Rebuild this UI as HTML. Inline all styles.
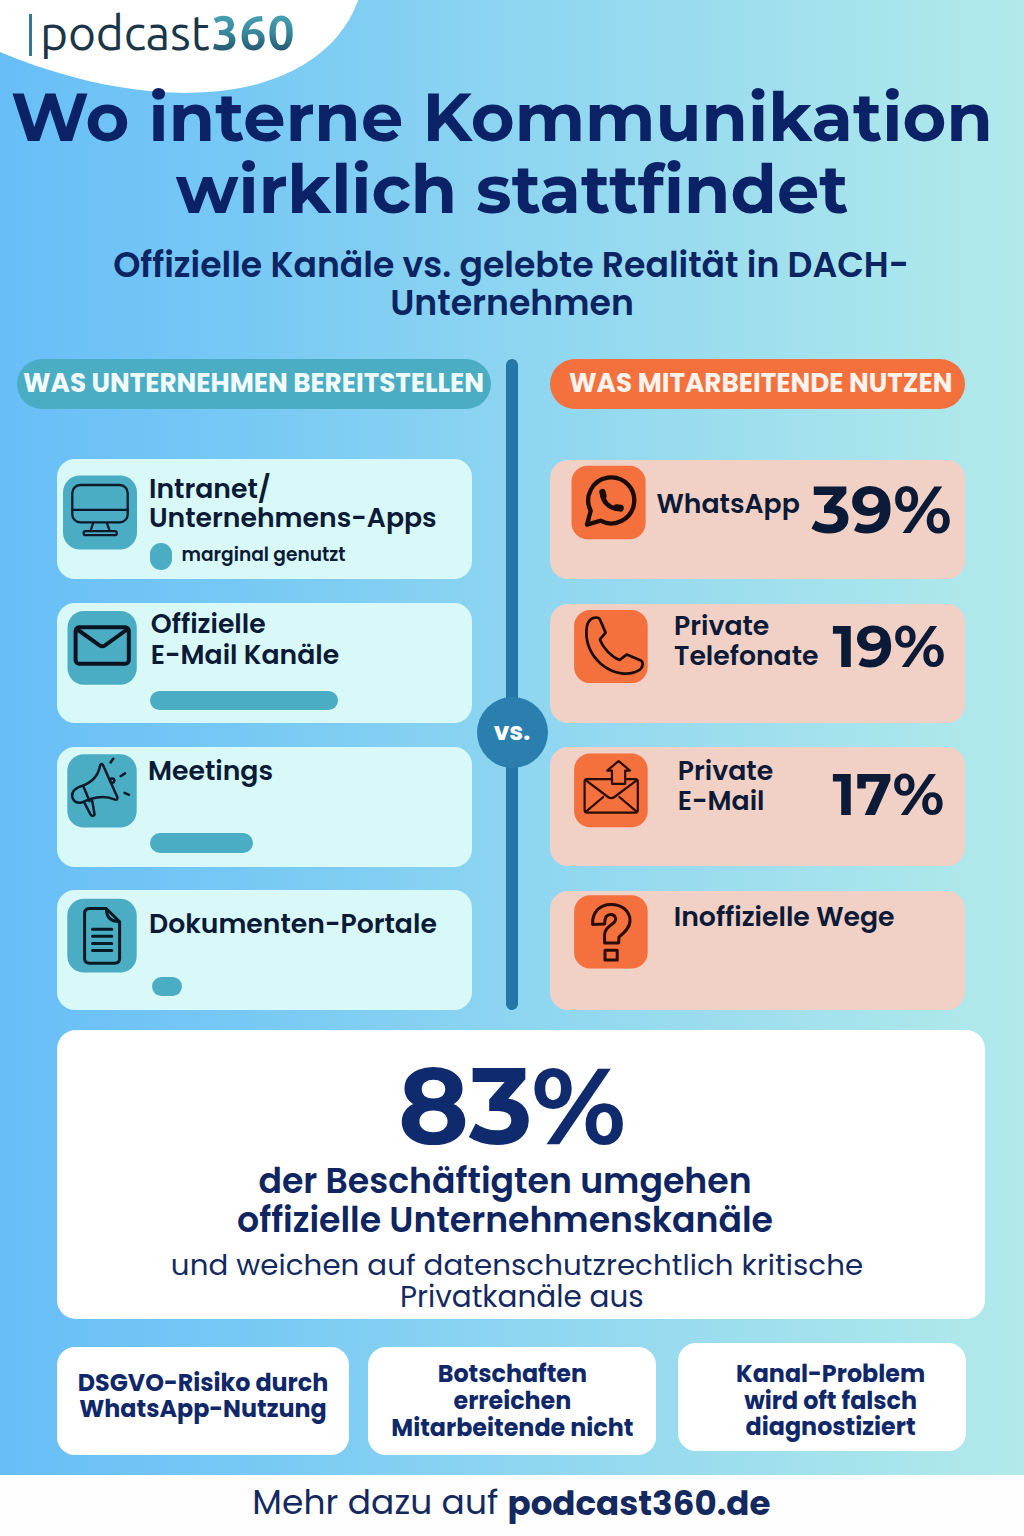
<!DOCTYPE html>
<html lang="de">
<head>
<meta charset="utf-8">
<title>Wo interne Kommunikation wirklich stattfindet</title>
<style>
*{margin:0;padding:0;box-sizing:border-box}
html,body{width:1024px;height:1536px;overflow:hidden}
body{position:relative;background:linear-gradient(90deg,#67bef7 0%,#78c9f4 25%,#8dd5f1 50%,#b2eaea 100%);font-family:"Poppins","Liberation Sans",sans-serif;color:#0b1a36}
.abs{position:absolute}
.t{position:absolute;white-space:nowrap;line-height:1}
.mont{font-family:"Montserrat","Liberation Sans",sans-serif;font-weight:700}
.card{position:absolute;border-radius:18px}
.lc{background:#d8f9f8;left:57px;width:415px;height:120px}
.rc{background:#f1d0c6;left:550px;width:415px;height:119px}
.ic{position:absolute;border-radius:17px}
.tl{background:#4badc3}
.or{background:#f4703c}
.bar{position:absolute;background:#4badc3;border-radius:10px}
.ct{font-weight:600;font-size:26.7px;color:#0b1a36}
.wc{position:absolute;background:#fff;border-radius:18px}
.sc{font-weight:700;font-size:23.8px;color:#10286a;text-align:center}
</style>
</head>
<body>
<!-- logo blob -->
<svg class="abs" style="left:0;top:0" width="420" height="110" viewBox="0 0 420 110">
  <ellipse cx="28.4" cy="-168.5" rx="372.3" ry="210.3" transform="rotate(30.4 28.4 -169.5)" fill="#ffffff"/>
</svg>
<div class="abs" style="left:29.3px;top:13.5px;width:3px;height:42px;background:#2f7890"></div>
<div class="t" style="left:40px;top:8px;font-family:'Ubuntu','Liberation Sans',sans-serif;font-weight:370;font-size:48px;color:#1b3549;letter-spacing:-0.2px">podcast<span style="font-weight:640;letter-spacing:1px;margin-left:2px;background:linear-gradient(180deg,#50b1c1 0%,#3a889d 50%,#1a4560 100%);-webkit-background-clip:text;background-clip:text;color:transparent">360</span></div>

<!-- title -->
<div class="t mont" style="left:0;width:1004px;text-align:center;top:83.8px;font-size:67px;letter-spacing:0.1px;color:#0c2266">Wo interne Kommunikation</div>
<div class="t mont" style="left:0;width:1024px;text-align:center;top:156.2px;font-size:67px;color:#0c2266">wirklich stattfindet</div>

<!-- subtitle -->
<div class="t" style="left:0;width:1022px;text-align:center;top:247.5px;font-weight:600;font-size:34.65px;color:#0c2462">Offizielle Kanäle vs. gelebte Realität in DACH-</div>
<div class="t" style="left:0;width:1024px;text-align:center;top:286px;font-weight:600;font-size:34.65px;color:#0c2462">Unternehmen</div>

<!-- headers -->
<div class="abs" style="left:17px;top:359px;width:474px;height:50px;border-radius:25px;background:#4badc3"></div>
<div class="t" style="left:23px;top:370.2px;font-weight:700;font-size:26.22px;color:#f2fbfb">WAS UNTERNEHMEN BEREITSTELLEN</div>
<div class="abs" style="left:550px;top:359px;width:415px;height:50px;border-radius:25px;background:#f4703c"></div>
<div class="t" style="left:569px;top:370.2px;font-weight:700;font-size:26.25px;color:#fbf4ee">WAS MITARBEITENDE NUTZEN</div>

<!-- center line + vs -->
<div class="abs" style="left:505.5px;top:359px;width:12.5px;height:651px;border-radius:7px;background:#2478a7"></div>
<div class="abs" style="left:476.5px;top:696.5px;width:71px;height:71px;border-radius:50%;background:#2a7fae"></div>
<div class="t" style="left:476.5px;width:71px;text-align:center;top:719px;font-weight:700;font-size:25px;color:#fff">vs.</div>

<!-- left cards -->
<div class="card lc" style="top:459px"></div>
<div class="card lc" style="top:603px"></div>
<div class="card lc" style="top:747px"></div>
<div class="card lc" style="top:890px"></div>

<!-- right cards -->
<div class="card rc" style="top:459.5px"></div>
<div class="card rc" style="top:604px"></div>
<div class="card rc" style="top:747px"></div>
<div class="card rc" style="top:891px"></div>


<!-- icons overlay -->
<svg class="abs" style="left:0;top:0" width="1024" height="1536" viewBox="0 0 1024 1536" fill="none" stroke-linecap="round" stroke-linejoin="round">
  <!-- left icon squares -->
  <rect x="63" y="475.5" width="74" height="74" rx="17" fill="#4badc3"/>
  <rect x="67.5" y="611" width="69.3" height="73.8" rx="16.5" fill="#4badc3"/>
  <rect x="67.3" y="754.2" width="69.4" height="73.4" rx="16.5" fill="#4badc3"/>
  <rect x="67.3" y="898.8" width="69.4" height="73.8" rx="16.5" fill="#4badc3"/>
  <!-- monitor -->
  <g stroke="#0d1a2c" stroke-width="2.3">
    <rect x="72.3" y="485" width="55.4" height="37.4" rx="8"/>
    <line x1="72.3" y1="509.8" x2="127.7" y2="509.8"/>
    <path d="M93 523.4 L90.6 530.6 M107 523.4 L109.6 530.6"/>
    <rect x="83.6" y="531.2" width="33.2" height="4" rx="2"/>
  </g>
  <!-- envelope -->
  <g stroke="#0a1420" stroke-width="4">
    <rect x="75.6" y="627.3" width="53.2" height="36.4" rx="3.5"/>
    <path d="M78.8 630.5 L99.5 645.3 Q102.2 647.2 105 645.3 L125.6 630.5"/>
  </g>
  <!-- megaphone -->
  <g stroke="#0d1a2c" stroke-width="2.5">
    <path d="M100.2 765.2 Q101.5 762.8 103.2 765.5 L117.4 797.2 Q117.6 800.6 114.4 799.4 Q104 794.6 90.5 799 L82.5 802.2 Q74 804.5 72.2 796.5 Q71.2 789.2 82.8 785.6 Q97.6 780 100.2 765.2 Z"/>
    <path d="M83 785.6 L89.6 801.2"/>
    <path d="M84.6 803.2 L90.6 814.6 Q92.6 817.4 94.6 814.6 L92.2 800.8"/>
    <circle cx="112.2" cy="780.6" r="2.2"/>
    <path d="M110.6 762.4 L113.2 758.8 M120.6 776.2 L125 773.4 M124.6 792.8 L129 794.8"/>
  </g>
  <!-- document -->
  <g stroke="#071a24" stroke-width="3">
    <path d="M106.2 908.5 L89.6 908.5 Q84.6 908.5 84.6 913.5 L84.6 958.2 Q84.6 963.2 89.6 963.2 L114.6 963.2 Q119.6 963.2 119.6 958.2 L119.6 921.8 Z"/>
    <path d="M106.5 909 Q106.5 921.5 119 921.5"/>
    <path d="M92.5 929.2 L111.8 929.2 M92.5 936.3 L111.8 936.3 M92.5 943.4 L111.8 943.4 M92.5 950.6 L111.8 950.6"/>
  </g>
  <!-- right icon squares -->
  <rect x="571.5" y="465.7" width="74.1" height="73.6" rx="16" fill="#f4703c"/>
  <rect x="574.1" y="610" width="73.6" height="73.1" rx="16" fill="#f4703c"/>
  <rect x="574.1" y="753.6" width="73.6" height="73.6" rx="16" fill="#f4703c"/>
  <rect x="574.1" y="895.3" width="73.6" height="73.1" rx="16" fill="#f4703c"/>
  <!-- whatsapp -->
  <g stroke="#1a0a08" stroke-width="4.3">
    <path d="M590.7 510.8 A23 23 0 1 1 600.4 520.7 L587 524.6 Z"/>
  </g>
  <g stroke="#1a0a08" fill="none">
    <path d="M602.5 492 L603.4 496" stroke-width="6.4"/>
    <path d="M602.6 495 C603 501 608 507 615.5 508.6" stroke-width="4.6"/>
    <path d="M616.6 507.6 L620.4 508.2" stroke-width="6.8"/>
  </g>
  <!-- phone -->
  <path d="M591 619.2 C594 617.2 598 616.8 599.6 618.8 L605.6 632.6 L599.8 639.6 C603 648 611 656.6 619.6 660 L626.6 654.6 L641 660.6 C643.6 662.2 643 667 640 669.6 C630 676 614 675 601 664 C590 654 586 642 586.4 631 C586.6 625 588.4 621 591 619.2 Z" stroke="#1a0a08" stroke-width="2.7"/>
  <!-- private email -->
  <g stroke="#2a0c06" stroke-width="2.2">
    <rect x="584.6" y="779.2" width="53.2" height="33.4" rx="2.5"/>
    <path d="M586 780.4 L608 797 Q611.2 799.4 614.4 797 L636.6 780.4"/>
    <path d="M586 811.6 L603.2 797 M636.6 811.6 L619.4 797"/>
    <path d="M618.6 761 L630 770.6 L625.2 770.6 L625.2 783.8 L612 783.8 L612 770.6 L607.2 770.6 Z" fill="#f4703c"/>
  </g>
  <!-- question -->
  <g stroke="#2a0c06" stroke-width="3">
    <path d="M592.6 924.4 C592 912 600 904.6 611 904.6 C622 904.6 630 911 630 920.6 C630 928 624 933 619 937 L618.6 943 L604.6 943 L604.6 935 C604.6 930 608 927 611 925 C614 923 616 921 615.6 918.6 C615 915.6 612.6 914.6 610.6 914.6 C607 914.6 604.6 917 604.6 924 Z"/>
    <rect x="605" y="950.3" width="12.2" height="9.6"/>
  </g>
</svg>

<!-- left card texts -->
<div class="t ct" style="left:149px;top:475.8px">Intranet/</div>
<div class="t ct" style="left:149px;top:505.4px">Unternehmens-Apps</div>
<div class="abs" style="left:149.6px;top:542.7px;width:22px;height:27px;border-radius:11px;background:#4badc3"></div>
<div class="t" style="left:181.5px;top:546.2px;font-weight:600;font-size:18.6px;color:#0b1a36">marginal genutzt</div>
<div class="t ct" style="left:150.8px;top:611.3px">Offizielle</div>
<div class="t ct" style="left:150.8px;top:642px">E-Mail Kanäle</div>
<div class="bar" style="left:150px;top:690.6px;width:188px;height:19.8px"></div>
<div class="t ct" style="left:148px;top:757.7px">Meetings</div>
<div class="bar" style="left:150px;top:832.8px;width:102.5px;height:20px"></div>
<div class="t ct" style="left:149px;top:911.3px">Dokumenten-Portale</div>
<div class="bar" style="left:152px;top:977px;width:29.5px;height:19.4px"></div>

<!-- right card texts -->
<div class="t ct" style="left:656.5px;top:491.2px">WhatsApp</div>
<div class="t mont" style="left:811.5px;top:477.3px;font-size:66.5px;color:#0b1a36">39%</div>
<div class="t ct" style="left:674px;top:613.3px">Private</div>
<div class="t ct" style="left:674px;top:643px">Telefonate</div>
<div class="t mont" style="left:832.6px;top:616.8px;font-size:59.2px;color:#0b1a36">19%</div>
<div class="t ct" style="left:677.8px;top:757.8px">Private</div>
<div class="t ct" style="left:677.8px;top:788px">E-Mail</div>
<div class="t mont" style="left:832.5px;top:764.5px;font-size:59px;color:#0b1a36">17%</div>
<div class="t ct" style="left:673.8px;top:904.4px">Inoffizielle Wege</div>

<!-- big card -->
<div class="wc" style="left:57px;top:1029.5px;width:928px;height:289px;border-radius:19px"></div>
<div class="t mont" style="left:0;width:1024px;text-align:center;top:1051.5px;font-size:107.5px;color:#0f2a6d">83%</div>


<div class="t" style="left:0;width:1010px;text-align:center;top:1164px;font-weight:600;font-size:34.7px;color:#0f2561">der Beschäftigten umgehen</div>
<div class="t" style="left:0;width:1010px;text-align:center;top:1203px;font-weight:600;font-size:34.65px;color:#0f2561">offizielle Unternehmenskanäle</div>
<div class="t" style="left:0;width:1034px;text-align:center;top:1250.3px;font-weight:400;font-size:29.25px;letter-spacing:0.08px;color:#13295f">und weichen auf datenschutzrechtlich kritische</div>
<div class="t" style="left:0;width:1043.6px;text-align:center;top:1281.6px;font-weight:400;font-size:29.45px;color:#13295f">Privatkanäle aus</div>

<!-- small cards -->
<div class="wc" style="left:57px;top:1347px;width:292px;height:108px"></div>
<div class="wc" style="left:368px;top:1347px;width:288px;height:108px"></div>
<div class="wc" style="left:678px;top:1343px;width:288px;height:108px"></div>


<div class="t sc" style="left:0;width:406px;top:1371px">DSGVO-Risiko durch</div>
<div class="t sc" style="left:0;width:406px;top:1396.8px">WhatsApp-Nutzung</div>
<div class="t sc" style="left:0;width:1024.8px;top:1362px">Botschaften</div>
<div class="t sc" style="left:0;width:1024.8px;top:1388.8px">erreichen</div>
<div class="t sc" style="left:0;width:1024.8px;top:1416px">Mitarbeitende nicht</div>
<div class="t sc" style="left:0;width:1661.2px;top:1362px">Kanal-Problem</div>
<div class="t sc" style="left:0;width:1661.2px;top:1388.8px">wird oft falsch</div>
<div class="t sc" style="left:0;width:1661.2px;top:1414.5px">diagnostiziert</div>

<!-- footer -->
<div class="abs" style="left:0;top:1475px;width:1024px;height:61px;background:#fefefe"></div>
<div class="t" style="left:252.3px;top:1485.2px;font-size:34.4px;font-weight:400;color:#13295f;letter-spacing:0.1px">Mehr dazu auf</div><div class="t" style="left:507.5px;top:1485.5px;font-size:34.1px;font-weight:700;color:#13295f">podcast360.de</div>
<script>
(function(){
var W=[255.6, 981.8, 672.6, 795.7, 243.6, 460.9, 383.4, 36.7, 121.7, 287.6, 164, 114.9, 188.5, 125, 287.9, 143.3, 140.1, 95.3, 144.5, 112.8, 95.3, 86.7, 111.7, 220.7, 227.8, 493.2, 535.8, 692.3, 243.7, 250.5, 247.5, 149.3, 117.8, 242.1, 189, 172.9, 170, 246.2, 262.9];
function fit(){
  var els=document.querySelectorAll('.t');
  if(els.length!==W.length) return;
  for(var i=0;i<els.length;i++){
    var el=els[i]; el.style.transform='';
    var rg=document.createRange(); rg.selectNodeContents(el);
    var b=rg.getBoundingClientRect(), w=b.width;
    if(!w) continue;
    var s=W[i]/w;
    if(Math.abs(s-1)>0.006){
      var e=el.getBoundingClientRect();
      var ta=getComputedStyle(el).textAlign;
      var ox=(ta==='center')?(b.left+b.width/2-e.left):(b.left-e.left);
      el.style.transformOrigin=ox+'px 50%';
      el.style.transform='scaleX('+s.toFixed(4)+')';
    }
  }
}
fit();
if(document.fonts&&document.fonts.ready){document.fonts.ready.then(fit);}
window.addEventListener('load',fit);
})();
</script>
</body>
</html>
